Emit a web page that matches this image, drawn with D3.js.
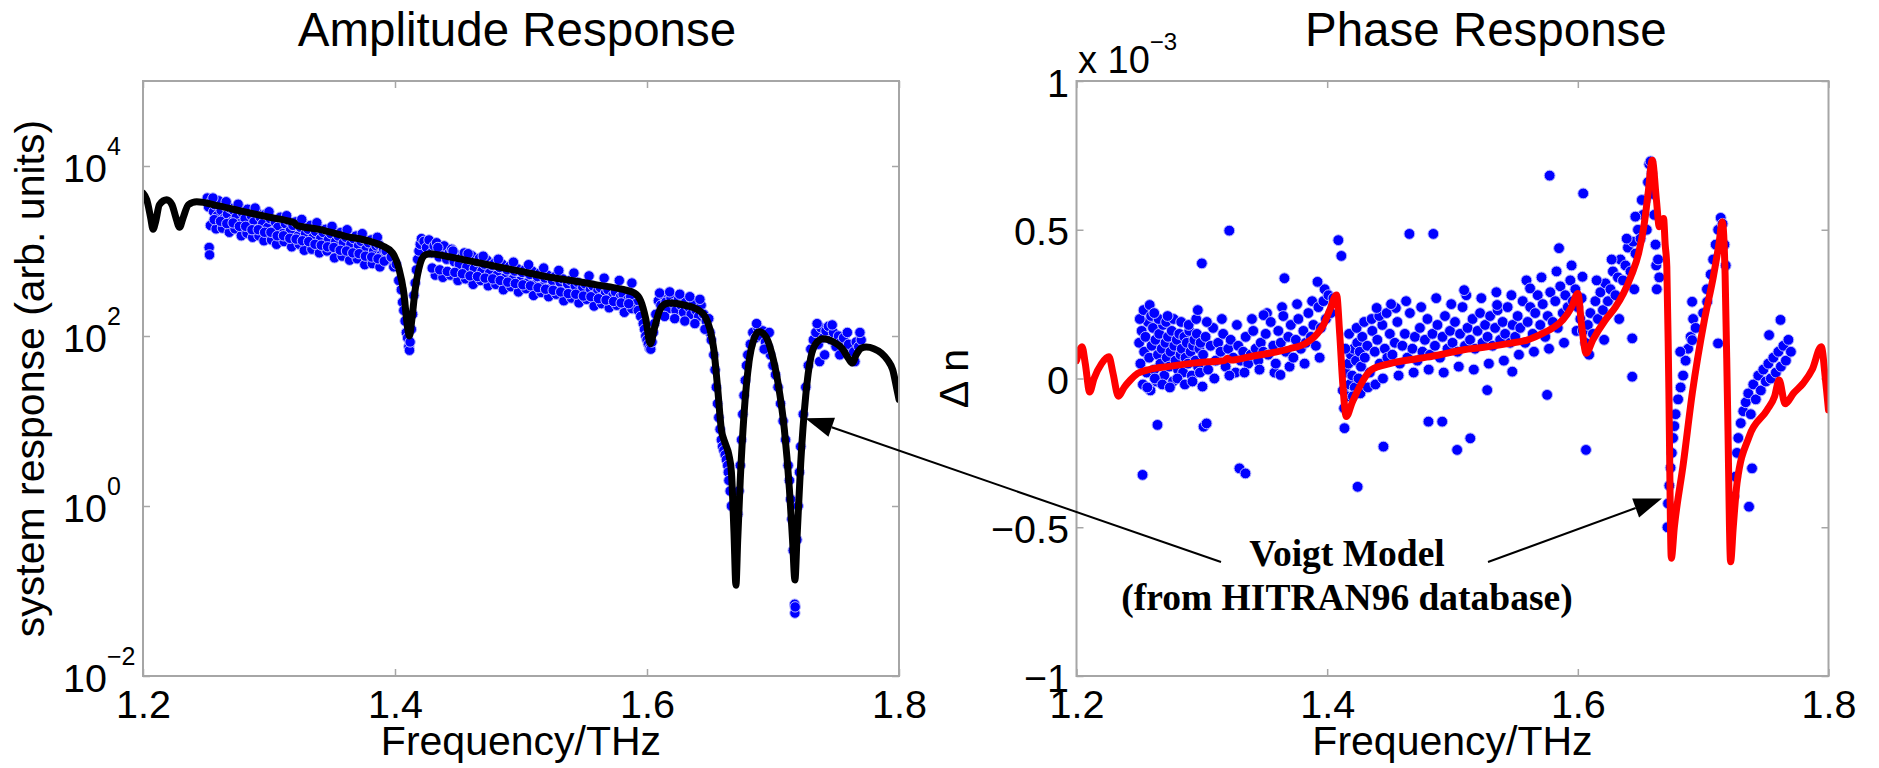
<!DOCTYPE html>
<html>
<head>
<meta charset="utf-8">
<script src="https://cdn.jsdelivr.net/npm/d3@7"></script>
<style>
  body { margin: 0; background: #fff; }
  svg { display: block; font-family: "Liberation Sans", Arial, Helvetica, sans-serif; }
</style>
</head>
<body>
<div id="chart"></div>
<script>
// ---- data ----
const freqTicks = [1.2, 1.4, 1.6, 1.8];
const ampTicks = [1e-2, 1, 1e2, 1e4];
const phaseTicks = [-1, -0.5, 0, 0.5, 1];

// Voigt model, amplitude [THz, arb. units]
const ampModel = [
  [1.200,4800],[1.203,4000],[1.206,2500],[1.208,1800],[1.210,2200],[1.213,3500],[1.2188,4000],[1.223,3500],
  [1.226,2500],[1.229,1900],[1.232,2500],[1.236,3500],[1.2426,3800],[1.260,3400],[1.280,2900],[1.300,2500],
  [1.318,2200],[1.320,2150],[1.322,2000],[1.340,1800],[1.360,1500],[1.380,1300],[1.390,1150],[1.398,950],
  [1.403,630],[1.407,320],[1.410,125],[1.4115,100],[1.413,140],[1.416,350],[1.420,710],[1.424,900],
  [1.428,930],[1.440,870],[1.460,760],[1.480,660],[1.500,575],[1.520,500],[1.540,450],[1.560,400],
  [1.580,355],[1.590,320],[1.595,260],[1.599,160],[1.6026,81],[1.606,125],[1.610,200],[1.615,240],
  [1.6186,245],[1.630,230],[1.640,205],[1.646,170],[1.650,120],[1.653,70],[1.656,25],[1.659,8],
  [1.662,5.5],[1.665,4],[1.667,2.5],[1.669,0.5],[1.6706,0.117],[1.672,0.4],[1.674,2],[1.677,12],
  [1.681,50],[1.685,93],[1.689,112],[1.694,100],[1.699,63],[1.704,28],[1.709,8],[1.713,1.6],
  [1.7155,0.4],[1.7174,0.135],[1.719,0.4],[1.722,3.2],[1.726,20],[1.730,56],[1.735,85],[1.740,93],
  [1.748,85],[1.755,71],[1.760,54],[1.763,48],[1.766,60],[1.770,72],[1.774,74],[1.780,71],
  [1.786,63],[1.791,52],[1.795,40],[1.798,25],[1.800,18]
];

// measured amplitude [THz, arb. units]
const ampMeasured = [
  [1.251,4200],[1.252,3300],[1.2525,1100],[1.2528,900],[1.254,3800],[1.256,2900],[1.257,3500],[1.259,2600],
  [1.260,3900],[1.262,3000],[1.264,2400],[1.265,3400],[1.267,2700],[1.269,3200],[1.270,2200],[1.272,3000],
  [1.274,2500],[1.276,3300],[1.277,2100],[1.279,2800],[1.281,2400],[1.283,3100],[1.284,1900],[1.286,2600],
  [1.288,2200],[1.290,2900],[1.291,1800],[1.293,2500],[1.295,2100],[1.297,2700],[1.299,1900],
  [1.301,2400],[1.303,1700],[1.305,2200],[1.307,1900],[1.309,2500],[1.311,1600],[1.313,2100],[1.315,2300],
  [1.317,1750],[1.319,2000],[1.321,2200],[1.323,1500],[1.325,1900],[1.327,2100],[1.329,1600],[1.331,1800],
  [1.333,2000],[1.335,1450],[1.337,1700],[1.339,1900],[1.341,1400],[1.343,1650],[1.345,1800],[1.347,1350],
  [1.349,1600],[1.351,1750],[1.353,1300],[1.355,1500],[1.357,1650],[1.359,1250],[1.361,1450],[1.363,1550],
  [1.365,1200],[1.367,1400],[1.369,1500],[1.371,1150],[1.373,1300],[1.375,1400],[1.377,1050],[1.379,1250],
  [1.381,1350],[1.383,1000],[1.385,1150],[1.387,1200],[1.389,900],[1.391,1050],[1.393,1000],[1.395,800],
  [1.2535,2000],[1.258,1820],[1.263,1860],[1.2685,1660],[1.273,1820],[1.278,1510],[1.2825,1620],[1.287,1450],
  [1.292,1510],[1.296,1320],[1.302,1350],[1.306,1200],[1.312,1290],[1.318,1120],[1.324,1200],[1.328,1020],
  [1.334,1050],[1.340,950],[1.346,1000],[1.352,830],[1.358,870],[1.364,780],[1.370,810],[1.376,690],
  [1.382,710],[1.388,650],
  [1.2565,2340],[1.2615,2240],[1.2665,2100],[1.2715,2140],[1.2765,1950],[1.2815,1950],[1.2865,1780],[1.2915,1780],
  [1.2965,1660],[1.3015,1660],[1.3065,1510],[1.3115,1510],[1.3165,1410],[1.3215,1380],[1.3265,1320],[1.3315,1290],
  [1.3365,1200],[1.3415,1170],[1.3465,1120],[1.3515,1100],[1.3565,1020],[1.3615,1000],[1.3665,950],[1.3715,930],
  [1.3765,870],[1.3815,850],[1.3865,810],[1.3915,760],
  [1.2555,4200],[1.266,3800],[1.2755,3550],[1.289,3200],[1.300,2900],[1.314,2600],[1.326,2350],[1.338,2150],
  [1.350,1950],[1.362,1780],[1.374,1600],[1.386,1450],
  [1.397,850],[1.399,650],[1.401,700],[1.403,450],[1.405,350],[1.406,250],[1.407,200],[1.408,150],
  [1.409,110],[1.410,95],[1.411,75],[1.4115,68],[1.412,85],[1.413,120],[1.414,180],[1.415,300],
  [1.416,420],[1.417,600],[1.418,800],[1.419,1000],[1.420,1200],[1.421,1400],
  [1.423,1300],[1.425,1100],[1.427,1350],[1.429,950],[1.431,1150],[1.433,1250],[1.435,850],[1.437,1050],
  [1.439,1150],[1.441,800],[1.443,950],[1.445,1050],[1.447,750],[1.449,900],[1.451,700],[1.453,850],
  [1.455,950],[1.457,650],[1.459,800],[1.461,880],[1.463,620],[1.465,750],[1.467,820],[1.469,580],
  [1.471,700],[1.473,780],[1.475,550],[1.477,680],[1.479,720],[1.481,520],[1.483,640],[1.485,700],
  [1.487,480],[1.489,600],[1.491,660],[1.493,460],[1.495,580],[1.497,620],[1.499,440],
  [1.501,560],[1.503,600],[1.505,420],[1.507,530],[1.509,580],[1.511,400],[1.513,500],[1.515,550],
  [1.517,380],[1.519,480],[1.521,520],[1.523,360],[1.525,450],[1.527,500],[1.529,340],[1.531,430],
  [1.533,470],[1.535,330],[1.537,410],[1.539,450],[1.541,310],[1.543,390],[1.545,430],[1.547,300],
  [1.549,370],[1.551,410],[1.553,290],[1.555,350],[1.557,390],[1.559,270],[1.561,340],[1.563,370],
  [1.565,260],[1.567,320],[1.569,350],[1.571,250],[1.573,300],[1.575,330],[1.577,240],[1.579,290],
  [1.581,310],[1.583,230],[1.585,270],[1.587,290],[1.589,210],[1.591,240],
  [1.432,520],[1.438,490],[1.444,520],[1.450,450],[1.456,470],[1.462,405],[1.468,450],[1.474,390],
  [1.480,405],[1.486,350],[1.492,380],[1.498,330],[1.504,360],[1.510,300],[1.516,325],[1.522,290],
  [1.528,310],[1.534,260],[1.540,280],[1.546,245],[1.552,270],[1.558,225],[1.564,240],[1.570,215],
  [1.576,230],[1.582,190],[1.588,210],
  [1.4295,630],[1.4355,600],[1.4415,575],[1.4475,560],[1.4535,540],[1.4595,510],[1.4655,500],[1.4715,480],
  [1.4775,470],[1.4835,450],[1.4895,430],[1.4955,415],[1.5015,400],[1.5075,390],[1.5135,370],[1.5195,355],
  [1.5255,345],[1.5315,330],[1.5375,315],[1.5435,310],[1.5495,295],[1.5555,290],[1.5615,275],[1.5675,265],
  [1.5735,255],[1.5795,245],[1.5855,240],
  [1.434,1100],[1.446,1000],[1.458,930],[1.470,870],[1.482,800],[1.494,740],[1.506,690],[1.518,630],
  [1.530,590],[1.542,550],[1.554,510],[1.566,480],[1.578,450],[1.588,420],
  [1.593,200],[1.595,170],[1.597,140],[1.598,120],[1.599,100],[1.600,90],[1.601,80],[1.602,72],
  [1.603,70],[1.604,85],[1.605,110],[1.606,140],[1.607,180],
  [1.609,260],[1.611,230],[1.613,300],[1.615,250],[1.617,210],[1.619,280],[1.621,240],[1.623,200],
  [1.625,270],[1.627,230],[1.629,190],[1.631,260],[1.633,220],[1.635,180],[1.637,250],[1.639,200],
  [1.641,170],[1.643,230],[1.645,180],[1.647,150],[1.649,160],[1.650,110],[1.651,90],
  [1.610,320],[1.614,170],[1.618,330],[1.622,160],[1.626,310],[1.630,150],[1.634,290],[1.638,140],
  [1.642,270],[1.646,120],
  [1.653,60],[1.654,40],[1.655,25],[1.656,16],[1.657,11],[1.658,8],[1.659,6],[1.660,5],
  [1.661,4.5],[1.662,4],[1.663,3.5],[1.664,3],[1.6645,2.5],[1.665,2],[1.666,1.5],[1.667,1],
  [1.672,0.8],[1.673,1.5],[1.674,3],[1.675,6],[1.676,12],[1.677,20],[1.678,30],[1.679,45],
  [1.680,60],[1.682,80],[1.684,110],[1.686,95],[1.688,125],[1.690,100],[1.692,115],[1.694,85],
  [1.696,75],[1.698,60],[1.687,140],[1.693,70],[1.697,110],
  [1.700,45],[1.702,35],[1.704,25],[1.706,16],[1.708,10],[1.710,6],
  [1.712,3],[1.713,2],[1.714,1.2],[1.715,0.7],[1.716,0.3],[1.7172,0.07],[1.7174,0.055],[1.7176,0.065],
  [1.719,0.4],[1.720,1],[1.721,2.5],[1.722,5],[1.724,12],[1.726,25],[1.728,45],[1.730,70],
  [1.732,90],[1.734,110],[1.736,80],[1.737,50],[1.738,125],[1.740,95],[1.742,115],[1.744,130],
  [1.746,90],[1.748,110],[1.750,75],[1.752,100],[1.754,85],[1.756,95],[1.758,70],[1.760,80],
  [1.762,55],[1.764,65],[1.766,85],[1.768,75],[1.770,90],
  [1.735,140],[1.741,60],[1.747,135],[1.753,60],[1.759,110],[1.765,50],[1.769,110]
];

// Voigt model, refractive index change [THz, Δn in units of 1e-3]
const phaseModel = [
  [1.200,0.06],[1.2044,0.107],[1.207,0.05],[1.2105,-0.045],[1.214,0.0],[1.220,0.05],[1.2259,0.073],[1.229,0.02],
  [1.2335,-0.06],[1.238,-0.03],[1.243,-0.005],[1.2488,0.017],[1.258,0.03],[1.2727,0.04],[1.290,0.05],[1.305,0.056],
  [1.318,0.06],[1.3205,0.068],[1.323,0.062],[1.340,0.075],[1.354,0.085],[1.370,0.10],[1.3828,0.118],[1.392,0.15],
  [1.397,0.18],[1.402,0.23],[1.4075,0.281],[1.410,0.15],[1.4124,-0.015],[1.4153,-0.128],[1.420,-0.08],[1.4259,-0.027],
  [1.4352,0.029],[1.450,0.05],[1.474,0.068],[1.490,0.08],[1.508,0.096],[1.525,0.105],[1.5455,0.118],[1.560,0.13],
  [1.569,0.146],[1.580,0.17],[1.588,0.197],[1.595,0.24],[1.600,0.286],[1.603,0.18],[1.6066,0.085],[1.612,0.13],
  [1.622,0.197],[1.630,0.24],[1.6364,0.286],[1.643,0.35],[1.6485,0.421],[1.653,0.52],[1.656,0.62],[1.6594,0.734],
  [1.6627,0.60],[1.665,0.51],[1.6668,0.52],[1.6684,0.538],[1.6697,0.45],[1.671,0.376],[1.6725,0.0],[1.6746,-0.604],
  [1.677,-0.5],[1.6842,-0.285],[1.6913,-0.05],[1.701,0.197],[1.7081,0.342],[1.7125,0.45],[1.7153,0.527],[1.7175,0.35],
  [1.7195,-0.1],[1.7219,-0.616],[1.724,-0.5],[1.727,-0.352],[1.7366,-0.196],[1.751,-0.106],[1.757,-0.06],[1.7606,-0.005],
  [1.7654,-0.085],[1.772,-0.05],[1.7798,-0.016],[1.787,0.03],[1.7942,0.107],[1.7975,0.0],[1.800,-0.106]
];

// measured refractive index change [THz, Δn in units of 1e-3]
const phaseMeasured = [
  [1.250,0.12],[1.251,0.05],[1.252,0.16],[1.253,-0.02],[1.254,0.09],[1.255,0.14],[1.256,0.02],[1.257,0.19],
  [1.258,0.07],[1.259,-0.04],[1.260,0.11],[1.261,0.17],[1.262,0.03],[1.263,0.13],[1.264,-0.01],[1.265,0.08],
  [1.266,0.15],[1.267,0.05],[1.268,0.10],[1.269,0.18],[1.270,0.01],[1.271,0.12],[1.272,0.07],[1.273,0.14],
  [1.274,0.04],[1.275,0.09],[1.276,0.16],[1.277,-0.01],[1.278,0.11],[1.279,0.06],[1.280,0.13],[1.281,0.03],
  [1.282,0.15],[1.283,0.08],[1.284,0.10],[1.285,0.02],[1.286,0.14],[1.287,0.07],[1.288,0.12],[1.289,0.05],
  [1.290,0.16],[1.291,0.09],[1.292,0.01],[1.293,0.11],[1.294,0.13],[1.295,0.06],[1.296,0.15],[1.297,0.04],
  [1.298,0.10],[1.299,0.12],
  [1.2505,0.20],[1.2535,0.23],[1.2565,-0.03],[1.2595,0.21],[1.2625,0.00],[1.2655,0.20],[1.2685,-0.02],[1.2715,0.19],
  [1.2745,-0.03],[1.2775,0.20],[1.2805,0.00],[1.2835,0.19],[1.2865,-0.02],[1.2895,0.18],[1.2925,-0.01],[1.2955,0.20],
  [1.2985,0.02],
  [1.2584,0.247],[1.2646,-0.156],[1.2527,-0.324],[1.2968,0.23],[1.300,0.387],[1.3005,-0.027],[1.3014,-0.162],[1.3038,-0.151],
  [1.2727,0.21],[1.262,0.22],
  [1.301,0.08],[1.303,0.14],[1.305,0.03],[1.307,0.11],[1.309,0.17],[1.311,0.06],[1.313,0.12],[1.315,0.09],
  [1.317,0.15],[1.319,0.04],[1.321,0.10],[1.323,0.13],[1.325,0.07],[1.327,0.02],[1.329,0.11],[1.331,0.06],
  [1.333,0.09],[1.335,0.14],[1.337,0.05],[1.339,0.08],[1.341,0.16],[1.343,0.10],[1.345,0.06],[1.347,0.12],
  [1.349,0.09],
  [1.304,0.19],[1.310,0.00],[1.316,0.20],[1.322,0.01],[1.328,0.18],[1.334,0.02],[1.340,0.20],[1.346,0.03],
  [1.352,0.22],[1.358,0.02],[1.364,0.24],[1.370,0.04],[1.376,0.25],[1.382,0.05],[1.388,0.26],[1.394,0.07],
  [1.398,0.30],
  [1.3219,0.497],[1.330,-0.302],[1.3348,-0.319],[1.3493,0.213],
  [1.351,0.15],[1.353,0.08],[1.355,0.19],[1.357,0.11],[1.359,0.05],[1.361,0.16],[1.363,0.12],[1.365,0.21],
  [1.367,0.09],[1.369,0.14],[1.371,0.18],[1.373,0.07],[1.375,0.13],[1.377,0.20],[1.379,0.10],[1.381,0.16],
  [1.383,0.12],[1.385,0.22],[1.387,0.14],[1.389,0.18],[1.391,0.11],[1.393,0.24],[1.395,0.17],[1.397,0.26],
  [1.399,0.20],[1.401,0.28],[1.403,0.22],[1.405,0.27],
  [1.3627,0.012],[1.3659,0.337],[1.3923,0.325],[1.4089,0.465],[1.4113,0.412],
  [1.4125,-0.04],[1.4135,-0.10],[1.4138,-0.167],[1.415,0.02],[1.416,-0.06],[1.417,0.05],[1.418,-0.02],[1.419,0.08],
  [1.420,0.01],[1.421,0.10],[1.422,-0.03],[1.423,0.06],[1.424,0.12],[1.425,0.00],[1.426,0.09],[1.427,0.04],
  [1.428,0.14],[1.430,0.07],[1.432,0.11],[1.434,0.02],[1.436,0.16],[1.438,0.09],[1.440,0.13],[1.442,0.05],
  [1.444,0.18],[1.446,0.10],[1.448,0.07],[1.450,0.15],
  [1.4145,0.10],[1.4175,0.15],[1.4205,-0.06],[1.4235,0.17],[1.4265,-0.05],[1.4295,0.19],[1.4325,-0.03],[1.4355,0.20],
  [1.4385,-0.02],[1.4415,0.21],[1.4445,0.00],[1.4475,0.22],
  [1.4243,-0.364],[1.4449,-0.229],[1.4395,0.237],[1.4548,0.237],
  [1.452,0.08],[1.454,0.12],[1.456,0.19],[1.458,0.05],[1.460,0.11],[1.462,0.15],[1.464,0.07],[1.466,0.22],
  [1.468,0.10],[1.470,0.14],[1.472,0.06],[1.474,0.17],[1.476,0.09],[1.478,0.13],[1.480,0.20],[1.482,0.08],
  [1.484,0.15],[1.486,0.11],[1.488,0.18],[1.490,0.07],[1.492,0.14],[1.494,0.21],[1.496,0.10],[1.498,0.16],
  [1.500,0.12],[1.502,0.19],[1.504,0.09],[1.506,0.15],[1.508,0.24],[1.510,0.11],[1.512,0.17],[1.514,0.13],
  [1.516,0.20],[1.518,0.10],[1.520,0.16],[1.522,0.22],[1.524,0.12],[1.526,0.18],[1.528,0.14],[1.530,0.21],
  [1.532,0.11],[1.534,0.17],[1.536,0.23],[1.538,0.13],[1.540,0.19],[1.542,0.15],[1.544,0.24],[1.546,0.12],
  [1.548,0.18],
  [1.451,0.25],[1.457,0.01],[1.463,0.26],[1.469,0.02],[1.475,0.24],[1.481,0.03],[1.487,0.27],[1.493,0.02],
  [1.499,0.25],[1.505,0.04],[1.511,0.28],[1.517,0.03],[1.523,0.27],[1.529,0.05],[1.535,0.29],[1.541,0.06],
  [1.547,0.28],
  [1.4656,0.486],[1.4847,0.486],[1.5093,0.297],[1.5356,0.247],[1.4808,-0.145],[1.4918,-0.145],[1.5142,-0.201],
  [1.5037,-0.24],[1.5277,-0.039],[1.5477,0.023],
  [1.550,0.14],[1.552,0.21],[1.554,0.17],[1.556,0.26],[1.558,0.12],[1.560,0.19],[1.562,0.24],[1.564,0.15],
  [1.566,0.22],[1.568,0.28],[1.570,0.18],[1.572,0.25],[1.574,0.14],[1.576,0.21],[1.578,0.29],[1.580,0.19],
  [1.582,0.26],[1.584,0.17],[1.586,0.31],[1.588,0.22],[1.590,0.28],[1.592,0.24],[1.594,0.33],[1.596,0.26],
  [1.598,0.30],
  [1.553,0.08],[1.559,0.33],[1.565,0.09],[1.571,0.34],[1.577,0.10],[1.583,0.36],[1.589,0.12],[1.595,0.38],
  [1.599,0.16],
  [1.5619,0.303],[1.5775,0.682],[1.585,0.438],[1.5755,-0.055],
  [1.600,0.24],[1.602,0.20],[1.604,0.16],[1.606,0.12],[1.608,0.18],[1.610,0.22],[1.612,0.15],[1.614,0.26],
  [1.616,0.20],[1.618,0.29],[1.620,0.23],[1.622,0.32],[1.624,0.26],[1.626,0.30],[1.628,0.36],[1.630,0.28],
  [1.632,0.34],[1.634,0.40],[1.636,0.33],[1.638,0.38],[1.640,0.44],[1.642,0.36],[1.644,0.46],[1.646,0.42],
  [1.648,0.50],[1.650,0.47],[1.652,0.55],[1.654,0.60],[1.656,0.66],[1.657,0.72],[1.658,0.73],[1.659,0.69],
  [1.660,0.62],
  [1.603,0.27],[1.609,0.08],[1.615,0.33],[1.621,0.13],[1.627,0.40],[1.633,0.20],[1.639,0.47],[1.645,0.30],
  [1.651,0.60],[1.655,0.50],
  [1.6043,0.622],[1.6037,0.342],[1.6065,-0.24],[1.6459,0.544],[1.6434,0.135],[1.6434,0.006],
  [1.661,0.55],[1.662,0.45],[1.6625,0.38],[1.663,0.30],[1.664,0.40],[1.665,0.34],
  [1.6715,-0.50],[1.672,-0.42],[1.673,-0.36],[1.674,-0.30],[1.675,-0.25],[1.676,-0.20],[1.677,-0.16],[1.678,-0.12],
  [1.680,-0.07],[1.682,-0.03],[1.684,0.01],[1.686,0.06],[1.688,0.10],
  [1.690,0.14],[1.692,0.20],[1.694,0.17],[1.6912,0.258],[1.7032,0.258],[1.6912,0.129],[1.6817,0.09],
  [1.700,0.22],[1.703,0.30],[1.706,0.35],[1.708,0.40],[1.710,0.45],[1.712,0.50],[1.714,0.54],[1.7155,0.52],
  [1.717,0.45],[1.718,0.38],[1.7119,0.118],
  [1.7246,-0.397],[1.7258,-0.33],[1.727,-0.25],[1.728,-0.20],[1.730,-0.15],[1.732,-0.11],[1.7366,-0.431],[1.739,-0.302],
  [1.734,-0.08],[1.736,-0.05],[1.738,-0.12],[1.740,-0.02],[1.742,-0.07],[1.744,0.01],[1.746,-0.04],[1.748,0.03],
  [1.750,-0.01],[1.752,0.05],[1.754,0.00],[1.756,0.07],[1.758,0.02],[1.760,0.09],[1.762,0.04],[1.764,0.11],
  [1.766,0.06],[1.768,0.13],[1.770,0.09],
  [1.7526,0.146],[1.7617,0.197]
];

// annotation arrow tips, in data coordinates of each panel
const ampArrowTip = [1.7256, 10.8];
const phaseArrowTip = [1.6671, -0.403];

// ---- layout ----
const width = 1879, height = 768;
const yTop = 81, yBottom = 676;
const ampBox = {x0: 143, x1: 899};
const phaseBox = {x0: 1076.5, x1: 1828.5};
const tickFont = 39.5, labelFont = 41, titleFont = 47.5;
const boxColor = "#a6a6a6";

const svg = d3.select("#chart").append("svg")
  .attr("width", width).attr("height", height)
  .attr("viewBox", `0 0 ${width} ${height}`);
svg.append("rect").attr("width", width).attr("height", height).attr("fill", "#fff");

const xA = d3.scaleLinear().domain([1.2, 1.8]).range([ampBox.x0, ampBox.x1]);
const yA = d3.scaleLog().domain([1e-2, 1e5]).range([yBottom, yTop]);
const xP = d3.scaleLinear().domain([1.2, 1.8]).range([phaseBox.x0, phaseBox.x1]);
const yP = d3.scaleLinear().domain([-1, 1]).range([yBottom, yTop]);

const defs = svg.append("defs");
defs.append("clipPath").attr("id", "clipA").append("rect")
  .attr("x", ampBox.x0).attr("y", yTop).attr("width", ampBox.x1 - ampBox.x0).attr("height", yBottom - yTop);
defs.append("clipPath").attr("id", "clipP").append("rect")
  .attr("x", phaseBox.x0).attr("y", yTop).attr("width", phaseBox.x1 - phaseBox.x0).attr("height", yBottom - yTop);

function styleAxis(g, showText) {
  g.attr("font-family", null).attr("font-size", tickFont).attr("color", boxColor);
  g.select(".domain").remove();
  g.selectAll(".tick line").attr("stroke-width", 1.5);
  g.selectAll(".tick text").attr("fill", "#000");
  if (!showText) g.selectAll(".tick text").remove();
}

function frame(box) {
  svg.append("rect")
    .attr("x", box.x0).attr("y", yTop)
    .attr("width", box.x1 - box.x0).attr("height", yBottom - yTop)
    .attr("fill", "none").attr("stroke", boxColor).attr("stroke-width", 2);
}

// ---- amplitude panel ----
const gA = svg.append("g");
gA.append("g").attr("transform", `translate(0,${yBottom})`)
  .call(d3.axisBottom(xA).tickValues(freqTicks).tickSize(-7).tickPadding(14).tickFormat(d3.format(".1f")))
  .call(g => styleAxis(g, true));
gA.append("g").attr("transform", `translate(0,${yTop})`)
  .call(d3.axisTop(xA).tickValues(freqTicks).tickSize(-7).tickFormat(""))
  .call(g => styleAxis(g, false));
gA.append("g").attr("transform", `translate(${ampBox.x0},0)`)
  .call(d3.axisLeft(yA).tickValues(ampTicks).tickSize(-7).tickFormat(""))
  .call(g => styleAxis(g, false));
gA.append("g").attr("transform", `translate(${ampBox.x1},0)`)
  .call(d3.axisRight(yA).tickValues(ampTicks).tickSize(-7).tickFormat(""))
  .call(g => styleAxis(g, false));

// 10^n labels
const expLabels = gA.append("g").selectAll("text").data(ampTicks).join("text")
  .attr("x", 63).attr("y", d => yA(d) + 16).attr("font-size", tickFont);
expLabels.append("tspan").text("10");
expLabels.append("tspan").attr("font-size", 25).attr("dy", -27)
  .text(d => d3.format("~g")(Math.round(Math.log10(d))));

const plotA = gA.append("g").attr("clip-path", "url(#clipA)");
plotA.append("g").selectAll("circle").data(ampMeasured).join("circle")
  .attr("cx", d => xA(d[0])).attr("cy", d => yA(d[1])).attr("r", 5.2)
  .attr("fill", "#0000ff").attr("stroke", "#b8b8ff").attr("stroke-width", 1);
plotA.append("path").datum(ampModel)
  .attr("fill", "none").attr("stroke", "#000").attr("stroke-width", 7)
  .attr("stroke-linejoin", "round").attr("stroke-linecap", "round")
  .attr("d", d3.line().x(d => xA(d[0])).y(d => yA(d[1])).curve(d3.curveMonotoneX));
frame(ampBox);

gA.append("text").attr("x", 517).attr("y", 46).attr("text-anchor", "middle")
  .attr("font-size", titleFont).text("Amplitude Response");
gA.append("text").attr("x", (ampBox.x0 + ampBox.x1) / 2).attr("y", 755).attr("text-anchor", "middle")
  .attr("font-size", labelFont).text("Frequency/THz");
gA.append("text").attr("transform", `translate(44,${(yTop + yBottom) / 2}) rotate(-90)`)
  .attr("text-anchor", "middle").attr("font-size", labelFont).text("system response (arb. units)");

// ---- phase panel ----
const gP = svg.append("g");
gP.append("g").attr("transform", `translate(0,${yBottom})`)
  .call(d3.axisBottom(xP).tickValues(freqTicks).tickSize(-7).tickPadding(14).tickFormat(d3.format(".1f")))
  .call(g => styleAxis(g, true));
gP.append("g").attr("transform", `translate(0,${yTop})`)
  .call(d3.axisTop(xP).tickValues(freqTicks).tickSize(-7).tickFormat(""))
  .call(g => styleAxis(g, false));
gP.append("g").attr("transform", `translate(${phaseBox.x0},0)`)
  .call(d3.axisLeft(yP).tickValues(phaseTicks).tickSize(-7).tickPadding(7.5).tickFormat(d3.format("~g")))
  .call(g => styleAxis(g, true))
  .call(g => g.selectAll(".tick text").attr("dy", "0.38em"));
gP.append("g").attr("transform", `translate(${phaseBox.x1},0)`)
  .call(d3.axisRight(yP).tickValues(phaseTicks).tickSize(-7).tickFormat(""))
  .call(g => styleAxis(g, false));

const mult = gP.append("text").attr("x", 1078).attr("y", 73).attr("font-size", 38);
mult.append("tspan").text("x 10");
mult.append("tspan").attr("font-size", 24).attr("dy", -23).text("\u22123");

const plotP = gP.append("g").attr("clip-path", "url(#clipP)");
plotP.append("g").selectAll("circle").data(phaseMeasured).join("circle")
  .attr("cx", d => xP(d[0])).attr("cy", d => yP(d[1])).attr("r", 5.4)
  .attr("fill", "#0000ff").attr("stroke", "#b8b8ff").attr("stroke-width", 1);
plotP.append("path").datum(phaseModel)
  .attr("fill", "none").attr("stroke", "#ff0000").attr("stroke-width", 7)
  .attr("stroke-linejoin", "round").attr("stroke-linecap", "round")
  .attr("d", d3.line().x(d => xP(d[0])).y(d => yP(d[1])).curve(d3.curveMonotoneX));
frame(phaseBox);

gP.append("text").attr("x", 1305).attr("y", 46)
  .attr("font-size", titleFont).text("Phase Response");
gP.append("text").attr("x", (phaseBox.x0 + phaseBox.x1) / 2).attr("y", 755).attr("text-anchor", "middle")
  .attr("font-size", labelFont).text("Frequency/THz");
gP.append("text").attr("transform", `translate(968,${(yTop + yBottom) / 2}) rotate(-90)`)
  .attr("text-anchor", "middle").attr("font-size", labelFont).text("\u0394 n");

// ---- annotation ----
const note = svg.append("g").attr("font-family", "'Liberation Serif', 'Times New Roman', serif")
  .attr("font-weight", "bold").attr("font-size", 37.5).attr("text-anchor", "middle");
note.append("text").attr("x", 1347).attr("y", 566).text("Voigt Model");
note.append("text").attr("x", 1347).attr("y", 610).text("(from HITRAN96 database)");

function arrow(tail, tip) {
  const dx = tail[0] - tip[0], dy = tail[1] - tip[1];
  const len = Math.hypot(dx, dy), ux = dx / len, uy = dy / len;
  const L = 28, w = 10;
  const bx = tip[0] + ux * L, by = tip[1] + uy * L;
  svg.append("line").attr("x1", tail[0]).attr("y1", tail[1]).attr("x2", bx).attr("y2", by)
    .attr("stroke", "#000").attr("stroke-width", 2);
  svg.append("path")
    .attr("d", `M${tip[0]},${tip[1]}L${bx - uy * w},${by + ux * w}L${bx + uy * w},${by - ux * w}Z`)
    .attr("fill", "#000");
}
arrow([1221, 562], [xA(ampArrowTip[0]), yA(ampArrowTip[1])]);
arrow([1488, 562], [xP(phaseArrowTip[0]), yP(phaseArrowTip[1])]);
</script>
</body>
</html>
